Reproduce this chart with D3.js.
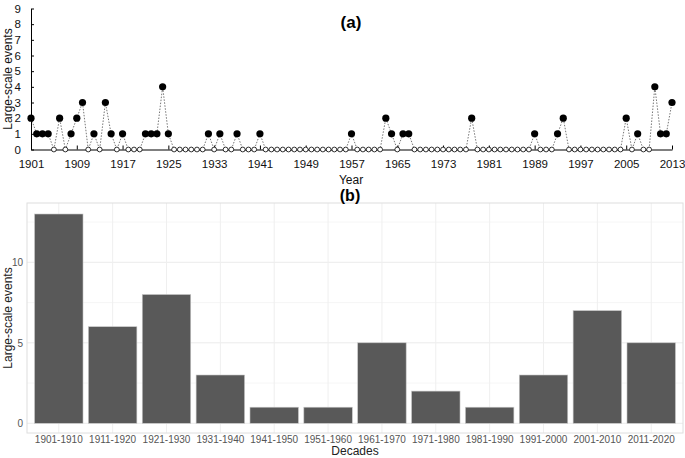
<!DOCTYPE html>
<html><head><meta charset="utf-8">
<script src="https://cdn.jsdelivr.net/npm/d3@7"></script>
<style>
html,body{margin:0;padding:0;background:#fff;}
svg{display:block;font-family:"Liberation Sans",Arial,sans-serif;}
</style></head>
<body>
<svg id="c" width="685" height="458"></svg>
<script>
// ---- Data ----
const years = d3.range(1901, 2014);
const yearlyEvents = [
  2,1,1,1,0,2,0,1,2,3,      // 1901-1910
  0,1,0,3,1,0,1,0,0,0,      // 1911-1920
  1,1,1,4,1,0,0,0,0,0,      // 1921-1930
  0,1,0,1,0,0,1,0,0,0,      // 1931-1940
  1,0,0,0,0,0,0,0,0,0,      // 1941-1950
  0,0,0,0,0,0,1,0,0,0,      // 1951-1960
  0,0,2,1,0,1,1,0,0,0,      // 1961-1970
  0,0,0,0,0,0,0,2,0,0,      // 1971-1980
  0,0,0,0,0,0,0,0,1,0,      // 1981-1990
  0,0,1,2,0,0,0,0,0,0,      // 1991-2000
  0,0,0,0,2,0,1,0,0,4,      // 2001-2010
  1,1,3                     // 2011-2013
];
const yearTicks = [1901,1909,1917,1925,1933,1941,1949,1957,1965,1973,1981,1989,1997,2005,2013];
const yTicksA = [0,1,2,3,4,5,6,7,8,9];
const decades = ["1901-1910","1911-1920","1921-1930","1931-1940","1941-1950","1951-1960",
                 "1961-1970","1971-1980","1981-1990","1991-2000","2001-2010","2011-2020"];
const decadeEvents = [13,6,8,3,1,1,5,2,1,3,7,5];
const yTicksB = [0,5,10];
const yMinorB = [2.5,7.5,12.5];

const svg = d3.select("#c");

// ---- Panel (a) ----
const xA = d3.scaleLinear().domain([1901, 2013]).range([31, 672]);
const yA = d3.scaleLinear().domain([0, 9]).range([149.5, 8.5]);
const gA = svg.append("g");

const axA_x = gA.append("g").attr("transform", `translate(0,${yA(0)})`)
  .call(d3.axisBottom(xA).tickValues(yearTicks).tickFormat(d3.format("d"))
        .tickSizeInner(-4).tickSizeOuter(0).tickPadding(10));
axA_x.selectAll("text").attr("font-size", 11.5).attr("fill", "#111")
  .attr("font-family", "'Liberation Sans',Arial,sans-serif");
axA_x.select(".domain").attr("stroke", "#000");
axA_x.selectAll(".tick line").attr("stroke", "#000");

const axA_y = gA.append("g").attr("transform", `translate(${xA(1901)},0)`)
  .call(d3.axisLeft(yA).tickValues(yTicksA).tickSizeInner(-3).tickSizeOuter(0).tickPadding(10));
axA_y.selectAll("text").attr("font-size", 11.5).attr("fill", "#111")
  .attr("font-family", "'Liberation Sans',Arial,sans-serif");
axA_y.select(".domain").attr("stroke", "#000");
axA_y.selectAll(".tick line").attr("stroke", "#000");

const lineA = d3.line().x((d,i) => xA(years[i])).y(d => yA(d));
gA.append("path").datum(yearlyEvents).attr("d", lineA)
  .attr("fill", "none").attr("stroke", "#666").attr("stroke-width", 0.9)
  .attr("stroke-dasharray", "1.5,1.5");

gA.selectAll("circle.pt").data(yearlyEvents).join("circle")
  .attr("class", "pt")
  .attr("cx", (d,i) => xA(years[i])).attr("cy", d => yA(d))
  .attr("r", d => d > 0 ? 3.6 : 2.4)
  .attr("fill", d => d > 0 ? "#000" : "#fff")
  .attr("stroke", "#000").attr("stroke-width", d => d > 0 ? 0 : 0.8);

gA.append("text").attr("x", 351).attr("y", 28).attr("text-anchor", "middle")
  .attr("font-size", 17).attr("font-weight", "bold").text("(a)");
gA.append("text").attr("x", 351).attr("y", 184).attr("text-anchor", "middle")
  .attr("font-size", 12).attr("fill", "#111").text("Year");
gA.append("text").attr("transform", "translate(12,79) rotate(-90)")
  .attr("text-anchor", "middle").attr("font-size", 12).attr("fill", "#111")
  .text("Large-scale events");

// ---- Panel (b) ----
const pL = 27, pR = 683, pT = 203, pB = 433;
const xB = d3.scaleBand().domain(decades).range([pL, pR]).paddingInner(0.1).paddingOuter(0.14);
const yB = d3.scaleLinear().domain([0, 13]).range([423.3, 214]);
const gB = svg.append("g");

gB.selectAll("line.minor").data(yMinorB).join("line").attr("class","minor")
  .attr("x1", pL).attr("x2", pR).attr("y1", d => yB(d)).attr("y2", d => yB(d))
  .attr("stroke", "#f4f4f4").attr("stroke-width", 0.8);
gB.selectAll("line.major").data(yTicksB).join("line").attr("class","major")
  .attr("x1", pL).attr("x2", pR).attr("y1", d => yB(d)).attr("y2", d => yB(d))
  .attr("stroke", "#ececec").attr("stroke-width", 1);
gB.selectAll("line.vmaj").data(decades).join("line").attr("class","vmaj")
  .attr("x1", d => xB(d) + xB.bandwidth()/2).attr("x2", d => xB(d) + xB.bandwidth()/2)
  .attr("y1", pT).attr("y2", pB)
  .attr("stroke", "#efefef").attr("stroke-width", 1);

gB.append("rect").attr("x", pL).attr("y", pT).attr("width", pR - pL).attr("height", pB - pT)
  .attr("fill", "none").attr("stroke", "#dedede").attr("stroke-width", 1);

gB.selectAll("rect.bar").data(decadeEvents).join("rect").attr("class","bar")
  .attr("x", (d,i) => xB(decades[i])).attr("width", xB.bandwidth())
  .attr("y", d => yB(d)).attr("height", d => yB(0) - yB(d))
  .attr("fill", "#595959").attr("stroke", "#c8c8c8").attr("stroke-width", 0.6);

const axB_y = gB.append("g").attr("transform", `translate(${pL},0)`)
  .call(d3.axisLeft(yB).tickValues(yTicksB).tickSize(0).tickPadding(4));
axB_y.select(".domain").remove();
axB_y.selectAll("text").attr("font-size", 10).attr("fill", "#555")
  .attr("font-family", "'Liberation Sans',Arial,sans-serif");

const axB_x = gB.append("g").attr("transform", `translate(0,${pB})`)
  .call(d3.axisBottom(xB).tickSize(0).tickPadding(3));
axB_x.select(".domain").remove();
axB_x.selectAll("text").attr("font-size", 10).attr("fill", "#555")
  .attr("font-family", "'Liberation Sans',Arial,sans-serif");

gB.append("text").attr("x", 350).attr("y", 201).attr("text-anchor", "middle")
  .attr("font-size", 16).attr("font-weight", "bold").text("(b)");
gB.append("text").attr("x", 355).attr("y", 455).attr("text-anchor", "middle")
  .attr("font-size", 12).attr("fill", "#222").text("Decades");
gB.append("text").attr("transform", "translate(12,318) rotate(-90)")
  .attr("text-anchor", "middle").attr("font-size", 12).attr("fill", "#222")
  .text("Large-scale events");
</script>
</body></html>
